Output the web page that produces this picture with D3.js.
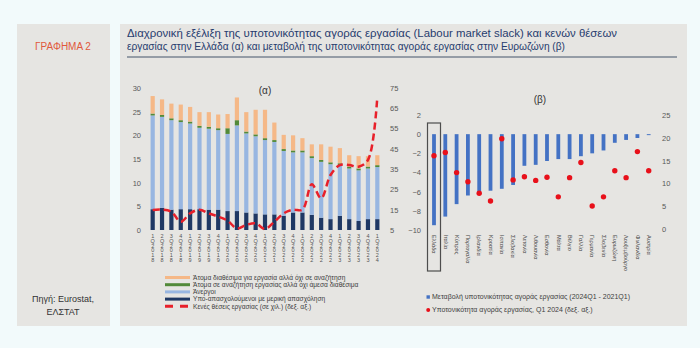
<!DOCTYPE html>
<html lang="el">
<head>
<meta charset="UTF-8">
<title>Γράφημα 2</title>
<script src="https://d3js.org/d3.v7.min.js"></script>
<style>
  body { margin: 0; background: #f2fafb; }
  svg { display: block; font-family: "Liberation Sans", Arial, sans-serif; }
</style>
</head>
<body>
<svg width="700" height="348" id="chart"></svg>
<script>
// ---- (α) Greece, quarterly, % of extended labour force ----
const quarters = ["1Q2018","2Q2018","3Q2018","4Q2018","1Q2019","2Q2019","3Q2019","4Q2019",
  "1Q2020","2Q2020","3Q2020","4Q2020","1Q2021","2Q2021","3Q2021","4Q2021",
  "1Q2022","2Q2022","3Q2022","4Q2022","1Q2023","2Q2023","3Q2023","4Q2023","1Q2024"];
const partTime        = [4.4,4.7,4.3,4.4,4.4,4.4,4.3,4.3,4.0,4.0,3.7,3.5,3.3,3.3,3.0,3.7,3.7,3.2,2.6,2.3,3.0,2.3,1.9,2.3,2.3];
const unemployed      = [19.8,19.2,18.9,18.4,18.1,17.2,17.1,16.8,16.3,18.1,16.7,16.3,15.7,15.3,13.7,12.7,12.7,12.0,11.8,11.6,10.7,10.7,10.7,10.7,11.0];
const seekingNotAvail = [0.4,0.4,0.4,0.4,0.4,0.4,0.4,0.4,1.2,1.1,0.4,0.4,0.4,0.4,0.4,0.4,0.4,0.4,0.4,0.4,0.4,0.4,0.4,0.4,0.4];
const availNotSeeking = [3.7,3.3,3.1,3.3,3.1,2.9,3.1,2.9,3.0,4.8,4.1,5.2,6.0,3.7,3.0,3.2,2.6,2.5,3.3,3.3,3.2,2.4,2.6,2.2,2.1];
const vacancies       = [14.9,15.0,14.0,9.1,13.2,15.0,13.2,11.6,9.6,5.8,7.5,8.3,5.5,9.1,13.2,15.0,15.0,27.5,20.6,32.1,37.0,37.0,36.2,39.5,70.7];
const leftTicksA  = [0,5,10,15,20,25,30];
const rightTicksA = [5,15,25,35,45,55,65,75];

// ---- (β) euro area countries ----
const countries = ["Ελλάδα","Ιταλία","Κύπρος","Πορτογαλία","Ιρλανδία","Κροατία","Ισπανία","Σλοβακία",
  "Λετονία","Λιθουανία","Εσθονία","Μάλτα","Βέλγιο","Γαλλία","Γερμανία","Σλοβενία",
  "Ευρωζώνη","Λουξεμβούργο","Φινλανδία","Αυστρία"];
const slackChange = [-9.5,-8.6,-7.3,-6.4,-6.1,-5.9,-5.7,-5.3,-3.3,-3.2,-2.8,-2.6,-2.6,-2.3,-2.0,-1.7,-0.9,-0.6,-0.4,-0.1];
const slackLevel  = [16.1,16.8,12.4,10.4,7.9,6.2,19.8,10.8,11.5,10.7,11.4,7.1,11.3,14.6,5.1,7.1,12.8,11.3,17.0,12.8];
const leftTicksB  = [2,0,-2,-4,-6,-8,-10];
const rightTicksB = [0,5,10,15,20,25];

const svg = d3.select("#chart");
const axisColor = "#595959";

// panels
svg.append("rect").attr("x", 17).attr("y", 24).attr("width", 93).attr("height", 302).attr("fill", "#e6e5e2");
svg.append("rect").attr("x", 120).attr("y", 24).attr("width", 567).attr("height", 302).attr("fill", "#e6e5e2");

svg.append("text").attr("x", 63).attr("y", 50).attr("text-anchor", "middle")
  .style("font-family", "'Liberation Sans Narrow', 'Liberation Sans', sans-serif")
  .style("font-size", "10px").style("fill", "#e0583c").text("ΓΡΑΦΗΜΑ 2");

svg.append("text").attr("x", 63).attr("y", 302).attr("text-anchor", "middle")
  .style("font-size", "9px").style("fill", "#333").text("Πηγή: Eurostat,");
svg.append("text").attr("x", 63).attr("y", 315).attr("text-anchor", "middle")
  .style("font-size", "9px").style("fill", "#333").text("ΕΛΣΤΑΤ");

// title
const titleLines = [
  "Διαχρονική εξέλιξη της υποτονικότητας αγοράς εργασίας (Labour market slack) και κενών θέσεων",
  "εργασίας στην Ελλάδα (α) και μεταβολή της υποτονικότητας αγοράς εργασίας στην Ευρωζώνη (β)"
];
const titleWidths = [490, 438];
titleLines.forEach((t, i) => {
  svg.append("text").attr("x", 127).attr("y", 37 + i * 13)
    .attr("textLength", titleWidths[i]).attr("lengthAdjust", "spacingAndGlyphs")
    .style("font-family", "'Liberation Sans Narrow', 'Liberation Sans', sans-serif")
    .style("font-size", "11.5px").style("fill", "#263c6e").text(t);
});
svg.append("line").attr("x1", 127).attr("x2", 677).attr("y1", 57).attr("y2", 57)
  .style("stroke", "#44546a").style("stroke-width", 1);

// ================= (α) =================
const xA = d3.scalePoint().domain(quarters).range([148, 382]).padding(0.5);
const yA = d3.scaleLinear().domain([0, 30]).range([230, 88]);
const yA2 = d3.scaleLinear().domain([5, 75]).range([230, 88]);

const keysA = ["partTime", "unemployed", "seekingNotAvail", "availNotSeeking"];
const colorsA = { partTime: "#1f3864", unemployed: "#98b6e1", seekingNotAvail: "#528a39", availNotSeeking: "#f5b887" };
const tableA = quarters.map((q, i) => ({
  q, partTime: partTime[i], unemployed: unemployed[i],
  seekingNotAvail: seekingNotAvail[i], availNotSeeking: availNotSeeking[i]
}));
const stackA = d3.stack().keys(keysA)(tableA);
const barW = 4.2;

svg.append("g").selectAll("g").data(stackA).join("g")
  .attr("fill", d => colorsA[d.key])
  .selectAll("rect").data(d => d).join("rect")
  .attr("x", d => xA(d.data.q) - barW / 2)
  .attr("width", barW)
  .attr("y", d => yA(d[1]))
  .attr("height", d => yA(d[0]) - yA(d[1]));

svg.append("path")
  .datum(vacancies)
  .attr("d", d3.line().x((d, i) => xA(quarters[i])).y(d => yA2(d)).curve(d3.curveCatmullRom.alpha(0.5)))
  .style("fill", "none").style("stroke", "#e8202a").style("stroke-width", 2.5)
  .style("stroke-dasharray", "7,4");

const axLeftA = svg.append("g").attr("transform", "translate(141,0)")
  .call(d3.axisLeft(yA).tickValues(leftTicksA).tickSize(0).tickPadding(0));
const axRightA = svg.append("g").attr("transform", "translate(390,0)")
  .call(d3.axisRight(yA2).tickValues(rightTicksA).tickSize(0).tickPadding(0));
[axLeftA, axRightA].forEach(a => {
  a.select(".domain").remove();
  a.selectAll("text").style("font-size", "7.5px").style("fill", axisColor).style("font-family", "'Liberation Sans', sans-serif");
});

// stacked quarter labels
const xLab = svg.append("g");
quarters.forEach(q => {
  const t = xLab.append("text").attr("x", xA(q)).attr("y", 238)
    .attr("text-anchor", "middle").style("font-size", "5.5px").style("fill", "#555");
  q.split("").forEach((c, j) => {
    t.append("tspan").attr("x", xA(q)).attr("dy", j === 0 ? 0 : 4.8).text(c);
  });
});

svg.append("text").attr("x", 265).attr("y", 94).attr("text-anchor", "middle")
  .style("font-size", "10px").style("fill", "#333").text("(α)");

// legend (α)
const legendA = [
  { label: "Άτομα διαθέσιμα για εργασία αλλά όχι σε αναζήτηση", color: colorsA.availNotSeeking },
  { label: "Άτομα σε αναζήτηση εργασίας αλλά όχι άμεσα διαθέσιμα", color: colorsA.seekingNotAvail },
  { label: "Άνεργοι", color: colorsA.unemployed },
  { label: "Υπο-απασχολούμενοι με μερική απασχόληση", color: colorsA.partTime },
  { label: "Κενές θέσεις εργασίας (σε χιλ.) (δεξ. αξ.)", color: "#e8202a", dash: true }
];
legendA.forEach((d, i) => {
  const y = 277.5 + i * 7.2;
  svg.append("line").attr("x1", 165).attr("x2", 190).attr("y1", y).attr("y2", y)
    .style("stroke", d.color).style("stroke-width", 3)
    .style("stroke-dasharray", d.dash ? "8,7" : null);
  svg.append("text").attr("x", 193).attr("y", y + 2.3)
    .style("font-size", "6.6px").style("fill", "#404040").text(d.label);
});

// ================= (β) =================
const xB = d3.scalePoint().domain(countries).range([428.35, 654.35]).padding(0.5);
const yB = d3.scaleLinear().domain([-10, 2]).range([230, 115]);
const yB2 = d3.scaleLinear().domain([0, 25]).range([229.3, 115]);
const barWB = 3.8;

svg.append("g").selectAll("rect").data(slackChange).join("rect")
  .attr("x", (d, i) => xB(countries[i]) - barWB / 2)
  .attr("width", barWB)
  .attr("y", d => yB(Math.max(0, d)))
  .attr("height", d => Math.abs(yB(d) - yB(0)))
  .attr("fill", "#4472c4");

svg.append("g").selectAll("circle").data(slackLevel).join("circle")
  .attr("cx", (d, i) => xB(countries[i]))
  .attr("cy", d => yB2(d))
  .attr("r", 2.7)
  .attr("fill", "#e8101a");

// box around Greece
svg.append("rect")
  .attr("x", xB(countries[0]) - 6.5).attr("y", 123)
  .attr("width", 13).attr("height", 148)
  .style("fill", "none").style("stroke", "#4d4d4d").style("stroke-width", 1.2);

const axLeftB = svg.append("g").attr("transform", "translate(421,0)")
  .call(d3.axisLeft(yB).tickValues(leftTicksB).tickSize(0).tickPadding(0));
const axRightB = svg.append("g").attr("transform", "translate(662,0)")
  .call(d3.axisRight(yB2).tickValues(rightTicksB).tickSize(0).tickPadding(0));
[axLeftB, axRightB].forEach(a => {
  a.select(".domain").remove();
  a.selectAll("text").style("font-size", "7.5px").style("fill", axisColor).style("font-family", "'Liberation Sans', sans-serif");
});

// rotated country labels
countries.forEach(c => {
  svg.append("text")
    .attr("transform", `translate(${xB(c) - 1.8},235) rotate(90)`)
    .style("font-size", "5.5px").style("fill", "#444").text(c);
});

svg.append("text").attr("x", 540).attr("y", 103).attr("text-anchor", "middle")
  .style("font-size", "10px").style("fill", "#333").text("(β)");

// legend (β)
const legendB = [
  { label: "Μεταβολή υποτονικότητας αγοράς εργασίας (2024Q1 - 2021Q1)", color: "#4472c4", shape: "square" },
  { label: "Υποτονικότητα αγοράς εργασίας, Q1 2024 (δεξ. αξ.)", color: "#e8101a", shape: "circle" }
];
legendB.forEach((d, i) => {
  const y = 297 + i * 13;
  if (d.shape === "square") {
    svg.append("rect").attr("x", 426.5).attr("y", y - 1.7).attr("width", 3.4).attr("height", 3.4).attr("fill", d.color);
  } else {
    svg.append("circle").attr("cx", 428.2).attr("cy", y).attr("r", 2).attr("fill", d.color);
  }
  svg.append("text").attr("x", 432).attr("y", y + 2.4)
    .style("font-size", "7px").style("fill", "#404040").text(d.label);
});
</script>
</body>
</html>
